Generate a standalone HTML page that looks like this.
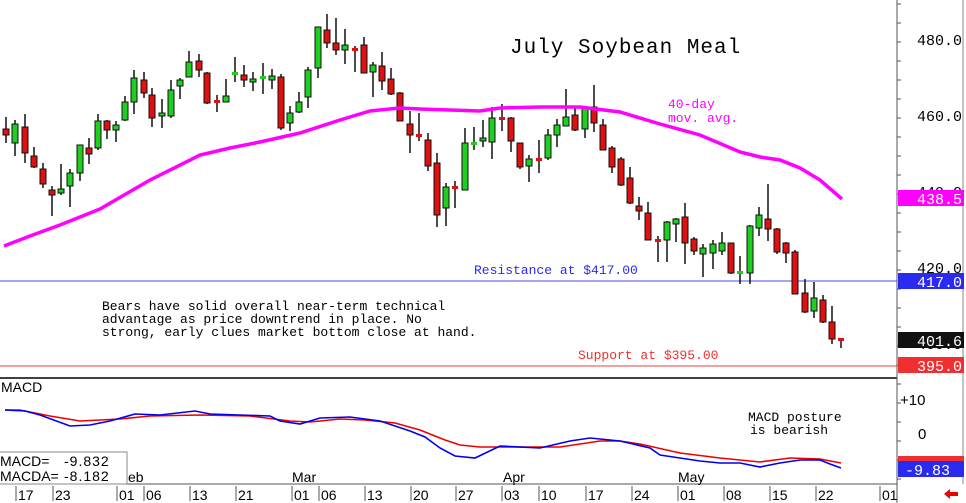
<!DOCTYPE html>
<html><head><meta charset="utf-8"><style>
html,body{margin:0;padding:0;background:#fff;width:966px;height:503px;overflow:hidden}
svg{display:block}
.m{font-family:"Liberation Mono",monospace}
.s{font-family:"Liberation Sans",sans-serif}
</style></head><body>
<svg id="c" width="966" height="503" xmlns="http://www.w3.org/2000/svg">
<rect width="966" height="503" fill="#fff"/>
<g id="ma"></g>
<line x1="0" y1="281" x2="897" y2="281" stroke="#4b4bf0" stroke-width="1"/>
<line x1="0" y1="366" x2="897" y2="366" stroke="#f08080" stroke-width="1.5"/>
<line x1="0" y1="378" x2="897" y2="378" stroke="#000" stroke-width="1.5"/>
<line x1="0" y1="484" x2="897" y2="484" stroke="#555" stroke-width="1"/>
<line x1="897" y1="0" x2="897" y2="503" stroke="#555" stroke-width="1"/>
<line x1="963" y1="0" x2="963" y2="484" stroke="#888" stroke-width="1"/>
<g id="cd"></g>
<polyline fill="none" stroke="#f0f" stroke-width="3.5" points="4,246 30,236 60,225 100,209 150,180 200,155 230,148 260,142 300,133 340,120 370,111 400,108 420,109 450,110 480,111 500,108 540,107 580,107 620,112 660,124 700,135 740,152 760,157 780,160 800,168 820,180 842,199"/>
<polyline fill="none" stroke="#e00" stroke-width="1.6" points="5,410 20,410 50,416 80,421 100,420 120,419 150,416 200,415 250,416 290,421 310,422 340,419 365,420 395,423 420,430 445,440 460,445 480,447 520,447 560,447 600,441 620,441 640,444 680,453 720,458 760,462 790,458 820,459 841,463"/>
<polyline fill="none" stroke="#00e" stroke-width="1.6" points="5,410 25,411 40,415 70,426 90,425 110,421 135,414 160,415 195,411 210,414 270,416 280,421 300,424 320,418 350,417 380,421 410,431 425,437 440,448 455,456 475,458 500,446 540,448 570,441 590,438 620,441 650,448 660,455 700,461 720,463 740,463 760,467 780,463 800,460 820,460 830,464 841,468"/>
<text x="510" y="53" class="m" font-size="21" letter-spacing="1">July Soybean Meal</text>
<text x="668" y="108" class="m" font-size="13" fill="#f0f">40-day</text>
<text x="668" y="122" class="m" font-size="13" fill="#f0f">mov. avg.</text>
<text x="474" y="274" class="m" font-size="13" fill="#2a2af0">Resistance at $417.00</text>
<text x="578" y="359" class="m" font-size="13" fill="#f03030">Support at $395.00</text>
<text x="102" y="310" class="m" font-size="13">Bears have solid overall near-term technical</text>
<text x="102" y="323" class="m" font-size="13">advantage as price downtrend in place. No</text>
<text x="102" y="336" class="m" font-size="13">strong, early clues market bottom close at hand.</text>
<text x="748" y="421" class="m" font-size="13">MACD posture</text>
<text x="750" y="434" class="m" font-size="13">is bearish</text>
<text x="1" y="392" class="s" font-size="14">MACD</text>
<rect x="-1" y="452" width="128" height="32" fill="#fff" stroke="#888"/>
<text x="0" y="466" class="s" font-size="14">MACD=</text><text x="64" y="466" class="s" font-size="14" letter-spacing="1">-9.832</text>
<text x="0" y="481" class="s" font-size="14">MACDA=</text><text x="64" y="481" class="s" font-size="14" letter-spacing="1">-8.182</text>
<text x="128" y="482" class="s" font-size="14">eb</text>
<text x="292" y="482" class="s" font-size="14">Mar</text>
<text x="503" y="482" class="s" font-size="14">Apr</text>
<text x="678" y="482" class="s" font-size="14">May</text>
<g id="ax" class="s" font-size="14"></g>
<g class="m" font-size="15">
<text x="917" y="45">480.0</text>
<text x="917" y="121">460.0</text>
<text x="917" y="197">440.0</text>
<rect x="898" y="190" width="66" height="16" fill="#f0f"/><text x="917" y="204" fill="#fff">438.5</text>
<text x="917" y="273">420.0</text>
<rect x="898" y="273" width="66" height="16" fill="#2a2af0"/><text x="917" y="287" fill="#fff">417.0</text>
<text x="917" y="349">400.0</text>
<rect x="898" y="332" width="66" height="16" fill="#111"/><text x="917" y="346" fill="#fff">401.6</text>
<rect x="898" y="357" width="66" height="16" fill="#f03030"/><text x="917" y="371" fill="#fff">395.0</text>
<text x="900" y="405" class="s">+10</text>
<text x="918" y="439" class="s">0</text>
<rect x="898" y="456" width="66" height="8" fill="#f03030"/>
<rect x="898" y="461" width="66" height="16" fill="#2a2af0"/><text x="905" y="475" fill="#fff">-9.83</text>
</g>
<polygon points="944,494 950,489 950,492 958,492 958,496 950,496 950,499" fill="#e00"/>
</svg>
<script>
var d=[[6,117,143,129,135,0],[15,120,156,143,124,1],[25,114,163,127,153,0],[34,147,168,156,167,0],[43,163,188,169,184,0],[52,186,216,190,195,0],[61,164,195,193,189,1],[70,169,207,186,173,1],[80,145,181,173,145,1],[89,138,164,148,154,0],[98,114,150,148,121,1],[107,120,139,121,130,0],[116,121,142,130,125,1],[125,96,121,120,102,1],[134,70,114,102,78,1],[144,72,98,80,93,0],[152,88,127,95,118,0],[162,99,128,116,113,1],[171,80,118,116,90,1],[180,78,99,86,80,1],[189,51,77,77,62,1],[199,54,77,61,70,0],[207,72,104,73,103,0],[217,95,112,101,101,0],[226,79,102,102,96,1],[235,57,82,73,73,1],[244,65,87,75,80,0],[253,72,91,82,79,1],[263,63,94,77,77,1],[272,69,89,80,76,1],[281,74,130,77,128,0],[290,106,131,123,113,1],[299,92,113,112,102,1],[308,67,108,97,70,1],[318,27,78,68,27,1],[327,14,48,30,43,0],[336,18,55,43,50,0],[345,29,64,50,45,1],[355,46,72,49,49,0],[364,37,73,45,73,0],[373,62,97,72,65,1],[382,52,90,66,81,0],[391,68,95,79,94,0],[400,92,121,93,121,0],[410,111,153,124,135,0],[419,113,141,135,135,0],[428,133,171,140,166,0],[437,153,227,163,215,0],[446,183,226,208,187,1],[455,181,208,187,187,0],[465,128,189,190,143,1],[474,127,150,143,143,1],[483,120,147,141,138,1],[492,107,159,142,118,1],[502,104,131,118,118,0],[511,117,152,118,141,0],[520,143,169,143,167,0],[529,155,182,166,159,1],[539,140,173,159,159,0],[548,129,160,158,135,1],[557,119,147,135,125,1],[566,89,126,126,117,1],[575,107,131,115,130,0],[585,106,138,129,107,1],[594,85,132,107,123,0],[603,119,150,125,150,0],[612,146,173,148,167,0],[621,157,186,159,185,0],[630,167,204,178,203,0],[639,197,220,206,211,0],[648,202,240,213,240,0],[658,236,262,240,240,0],[667,221,262,240,222,1],[676,218,242,224,219,1],[685,203,264,217,243,0],[694,237,255,239,251,0],[703,244,277,254,248,1],[713,240,269,253,244,1],[722,232,255,251,243,1],[731,243,274,243,273,0],[740,256,284,272,272,1],[750,225,284,273,226,1],[759,207,236,228,215,1],[768,184,241,219,229,0],[777,228,254,229,252,0],[786,242,263,243,253,0],[795,250,294,252,294,0],[805,279,313,293,312,0],[814,282,318,311,298,1],[823,295,323,300,322,0],[832,306,344,322,339,0],[841,338,348,339,339,0]];
var s='';
d.forEach(function(c){var x=c[0],t=Math.min(c[3],c[4]),b=Math.max(c[3],c[4]),col=c[5]?'#1fcf1f':'#e01010';
s+='<line x1="'+x+'" y1="'+c[1]+'" x2="'+x+'" y2="'+c[2]+'" stroke="#111" stroke-width="1.5"/>';
if(b-t<2){s+='<rect x="'+(x-3)+'" y="'+(t-1)+'" width="6" height="3" fill="'+col+'"/>';}
else s+='<rect x="'+(x-3)+'" y="'+t+'" width="6" height="'+(b-t)+'" fill="'+col+'" stroke="#111" stroke-width="1"/>';});
document.getElementById('cd').innerHTML=s;
var a=[[16,'17'],[53,'23'],[117,'01'],[144,'06'],[190,'13'],[236,'21'],[292,'01'],[319,'06'],[365,'13'],[411,'20'],[456,'27'],[502,'03'],[539,'10'],[586,'17'],[632,'24'],[678,'01'],[724,'08'],[770,'15'],[816,'22'],[880,'01']];
var t='';a.forEach(function(p){t+='<line x1="'+p[0]+'" y1="486" x2="'+p[0]+'" y2="501" stroke="#555"/><text x="'+(p[0]+2)+'" y="500">'+p[1]+'</text>';});
for(var y=4;y<484;y+=19){t+='<line x1="897" y1="'+y+'" x2="901" y2="'+y+'" stroke="#555"/>';}
document.getElementById('ax').innerHTML=t;
</script>
</body></html>
